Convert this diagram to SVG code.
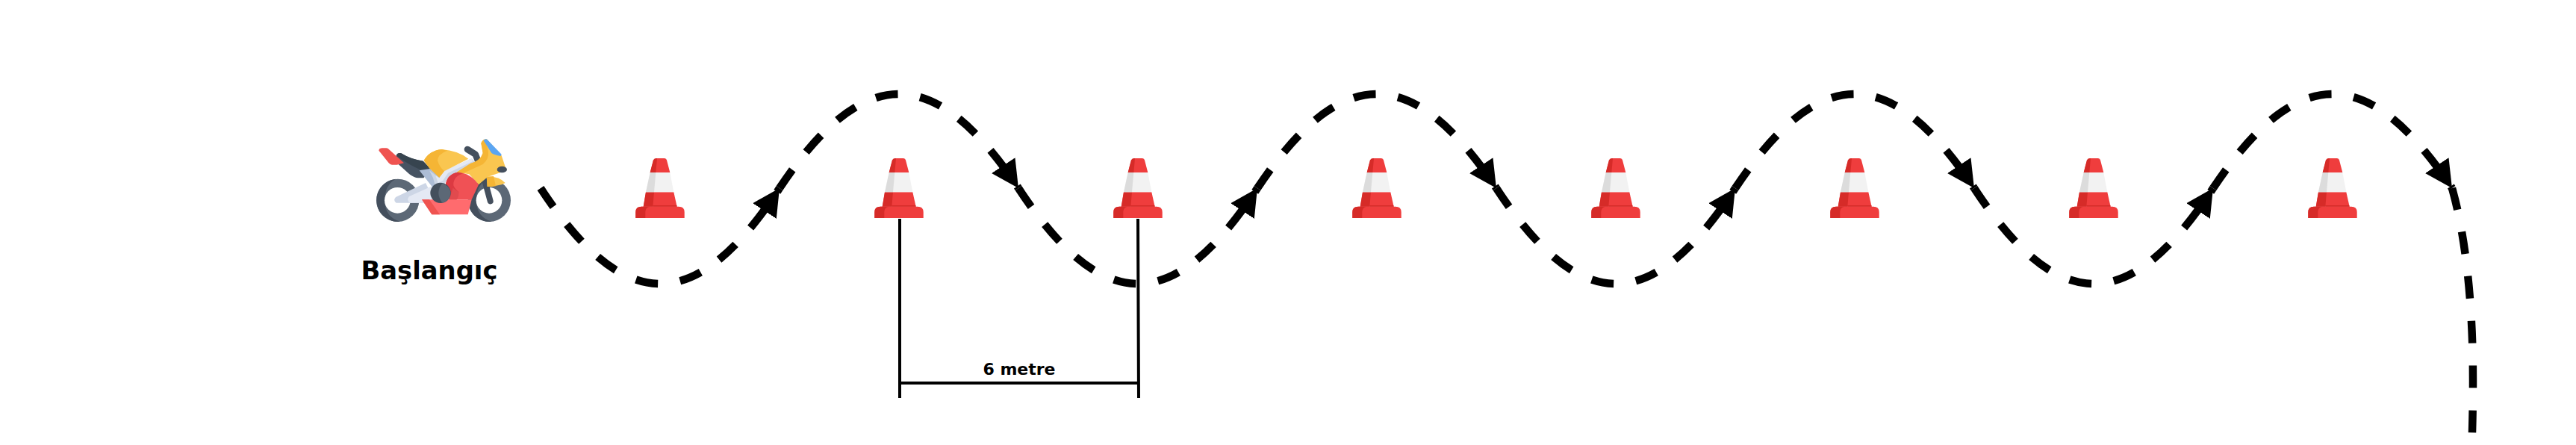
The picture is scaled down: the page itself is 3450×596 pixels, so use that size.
<svg xmlns="http://www.w3.org/2000/svg" width="3450" height="596" viewBox="0 0 3450 596">
<style>
text{font-family:"DejaVu Sans",sans-serif;font-weight:700;fill:#000;text-anchor:middle}
.wave{fill:none;stroke:#000;stroke-width:10.500;stroke-dasharray:30 30}
.arrow{marker-end:url(#tri)}
.dim{fill:none;stroke:#000;stroke-width:4}
</style>
<defs>
<marker id="tri" markerUnits="userSpaceOnUse" markerWidth="40" markerHeight="40" viewBox="0 -20 40 40" refX="36.5" refY="0" orient="auto"><path d="M0 -18.9L36.5 0L0 18.9Z" fill="#000"/></marker>
<g id="cone">
<path d="M-32.700 292V284Q-32.700 276.700 -25 276.700H25Q32.700 276.700 32.700 284V292Z" fill="#ef3d3d"/>
<path d="M-32.700 292V284Q-32.700 276.700 -25 276.700H-14Q-19.700 278 -19.700 284V292Z" fill="#d62b28"/>
<path d="M-22.300 276.700L-19 257.300H18.300L22.700 276.700Z" fill="#ef3d3d"/>
<path d="M-19 257.300H-8L-9.700 276.700H-22.300Z" fill="#d62b28"/>
<path d="M-9.700 275H22.300L22.700 276.700H-9.700Z" fill="#d62b28"/>
<path d="M-19 257.300L-13.300 231H13.300L18.300 257.300Z" fill="#f2f2f2"/>
<path d="M-19 257.300L-13.300 231H-5.700L-8 257.300Z" fill="#dcdcdc"/>
<path d="M-13.300 231L-9 214.500Q-8 212 -5 212H6Q8.500 212 9 214.500L13.300 231Z" fill="#ef3d3d"/>
<path d="M-13.300 231L-9 214.500Q-8 212 -5 212H-4L-5.700 231Z" fill="#d62b28"/>
</g>
</defs>
<g id="connectors">
<path class="wave arrow" d="M724 252C836 422.700 932 422.700 1044 252"/>
<path class="wave arrow" d="M1044 252C1156 84 1252 84 1364 252"/>
<path class="wave arrow" d="M1364 252C1476 422.700 1572 422.700 1684 252"/>
<path class="wave arrow" d="M1684 252C1796 84 1892 84 2004 252"/>
<path class="wave arrow" d="M2004 252C2116 422.700 2212 422.700 2324 252"/>
<path class="wave arrow" d="M2324 252C2436 84 2532 84 2644 252"/>
<path class="wave arrow" d="M2644 252C2756 422.700 2852 422.700 2964 252"/>
<path class="wave arrow" d="M2964 252C3076 84 3172 84 3284 252"/>
<path class="wave" d="M3284 252C3301 312 3312 400 3312 510Q3312 550 3310.500 596"/>
</g>
<g id="cone-1"><use href="#cone" x="884"/></g>
<g id="cone-2"><use href="#cone" x="1204"/></g>
<g id="cone-3"><use href="#cone" x="1524"/></g>
<g id="cone-4"><use href="#cone" x="1844"/></g>
<g id="cone-5"><use href="#cone" x="2164"/></g>
<g id="cone-6"><use href="#cone" x="2484"/></g>
<g id="cone-7"><use href="#cone" x="2804"/></g>
<g id="cone-8"><use href="#cone" x="3124"/></g>
<g id="motorcycle" transform="translate(480 170) scale(.33333)">
<circle cx="158" cy="295" r="86" fill="#5c6876"/>
<circle cx="526" cy="295" r="86" fill="#5c6876"/>
<path d="M150 209A86 86 0 0 0 168 380.400Q108 365 105 295Q106 232 150 209Z" fill="#444f5d"/>
<path d="M518 209A86 86 0 0 0 536 380.400Q476 365 473 295Q474 232 518 209Z" fill="#444f5d"/>
<circle cx="157" cy="295" r="52" fill="#fff"/>
<circle cx="525" cy="295" r="52" fill="#fff"/>
<path d="M507 212L530 298" stroke="#444f5d" stroke-width="24" stroke-linecap="round" fill="none"/>
<path d="M515 200Q565 198 590 225L575 232L535 240H518Z" fill="#fac650"/>
<path d="M515 200L543 198L552 238L518 240Z" fill="#f5b535"/>
<path d="M438 90L470 110L480 135" stroke="#444f5d" stroke-width="26" stroke-linecap="round" stroke-linejoin="round" fill="none"/>
<path d="M152 115Q158 102 172 106Q210 130 260 137L292 170L262 205H240Q225 205 205 190L155 145Z" fill="#465362"/>
<path d="M152 115Q158 102 172 106Q210 130 260 137L290 168L248 172Q195 148 152 115Z" fill="#37444f"/>
<path d="M82 95Q82 86 95 85H112Q118 85 125 92L183 145L155 152H135Q128 152 122 145Z" fill="#ef5350"/>
<path d="M150 282L270 225L310 305H152Q138 295 150 282Z" fill="#cdd6e6"/>
<path d="M203 280L295 238L330 305H208Q192 295 203 280Z" fill="#e4e9f4"/>
<path d="M245 175L288 168L330 205L320 235L300 245Z" fill="#adbdd6"/>
<path d="M285 175L325 205L342 178L455 127L472 145L400 185L360 205L340 240H310L300 205Z" fill="#cdd6e6"/>
<path d="M310 195L325 205L342 178L455 127L460 138L360 185L340 215L320 225Z" fill="#e4e9f4"/>
<path d="M263 135Q285 95 335 90Q400 95 442 128L345 178L325 203L285 165Z" fill="#fac650"/>
<path d="M263 135Q285 95 335 90L357 95Q318 110 318 135Q325 160 345 178L325 203L285 165Z" fill="#f5b535"/>
<path d="M395 182L450 147L490 133L500 105L493 65Q500 48 515 48L575 115L595 175L560 187L520 200L483 232L445 190Z" fill="#fac650"/>
<path d="M395 182L450 147Q490 135 500 105L493 65Q500 50 510 50L522 100Q525 130 500 150L420 187Z" fill="#f5b535"/>
<path d="M503 55Q508 46 517 50L575 110L572 117Q545 112 535 105Z" fill="#5ba5f2"/>
<ellipse cx="577" cy="171" rx="20" ry="13" fill="#444f5d"/>
<path d="M350 235Q355 190 400 182Q450 185 483 232L455 292H365Z" fill="#f05155"/>
<path d="M350 235Q355 190 400 182L420 187Q380 200 382 235Q385 245 403 262L395 292H365Z" fill="#dc3a42"/>
<path d="M380 245L403 262Q405 285 385 305H360Z" fill="#e14a4e"/>
<path d="M255 292H455L440 352H295Z" fill="#ff6b6e"/>
<path d="M255 292H285L327 352H295Z" fill="#ef5350"/>
<circle cx="330" cy="265" r="41" fill="#444f5d"/>
<path d="M337 226Q370 240 370 265Q370 298 337 305Q322 285 322 265Q322 245 337 226Z" fill="#5c6876"/>
</g>
<g id="label-start"><text x="575" y="373.500" font-size="33.800">Başlangıç</text></g>
<g id="dimension">
<path class="dim" d="M1205 293V533M1524 293L1525 533M1205 513H1525"/>
<text x="1365" y="502" font-size="22">6 metre</text>
</g>
</svg>
